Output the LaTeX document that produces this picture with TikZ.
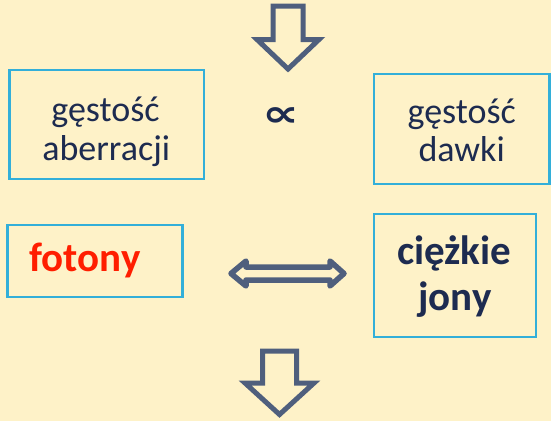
\documentclass[tikz,border=0pt]{standalone}
\usepackage{fontspec}
\usepackage{graphicx}
\setmainfont{Carlito}
\newfontfamily\djv{DejaVu Sans}
\definecolor{bgc}{HTML}{FEF2C8}
\definecolor{boxc}{HTML}{33AFD9}
\definecolor{navy}{HTML}{1D2B50}
\definecolor{arrc}{HTML}{4F5F7D}
\definecolor{fotred}{HTML}{FF1E00}
\begin{document}
\begin{tikzpicture}[x=1pt,y=-1pt,
  box/.style={draw=boxc, line width=2.5pt, inner sep=0pt, outer sep=0pt},
  lbl/.style={anchor=base, inner sep=0pt, text=navy, font=\fontsize{36}{38}\selectfont},
  blbl/.style={anchor=base, inner sep=0pt, text=navy, font=\fontsize{41}{46}\selectfont\bfseries},
  blockarrow/.style={draw=arrc, line width=5pt, line join=miter}]
\fill[bgc] (0,0) rectangle (551,421);
\useasboundingbox (0,0) rectangle (551,421);
% boxes
\node[box, minimum width=194.5pt, minimum height=109pt] (b1) at (106.8,124.6) {};
\node[box, minimum width=175.5pt, minimum height=110pt] (b2) at (461.75,129) {};
\node[box, minimum width=175pt, minimum height=72pt] (b3) at (95,261) {};
\node[box, minimum width=162pt, minimum height=123pt] (b4) at (455,275.5) {};
% texts
\node[lbl] (t1a) at (105.5,121.7) {gęstość};
\node[lbl] (t1b) at (106.2,160) {aberracji};
\node[lbl] (t2a) at (461.7,123.3) {gęstość};
\node[lbl] (t2b) at (461.7,161.7) {dawki};
\node[blbl, text=fotred] (t3) at (85,271.7) {fotony};
\node[blbl] (t4a) at (454.3,264) {ciężkie};
\node[blbl] (t4b) at (455,310) {jony};
\node[inner sep=0pt, text=navy, font=\djv\bfseries\fontsize{52}{56}\selectfont] (prop) at (281,117.5) {\scalebox{1}[0.72]{∝}};
% block arrows
\draw[blockarrow] (273,6) -- (303,6) -- (303,39.5) -- (319,39.5) -- (288,69) -- (257,39.5) -- (273,39.5) -- cycle;
\draw[blockarrow] (262.5,351) -- (296.5,351) -- (296.5,383) -- (314,383) -- (279.5,414.5) -- (245,383) -- (262.5,383) -- cycle;
\draw[draw=arrc, line width=5.5pt, line join=round] (231,273.5) -- (246,261) -- (246,267) -- (330,267) -- (330,261) -- (344,273.5) -- (330,286) -- (330,280) -- (246,280) -- (246,286) -- cycle;
\end{tikzpicture}
\end{document}
